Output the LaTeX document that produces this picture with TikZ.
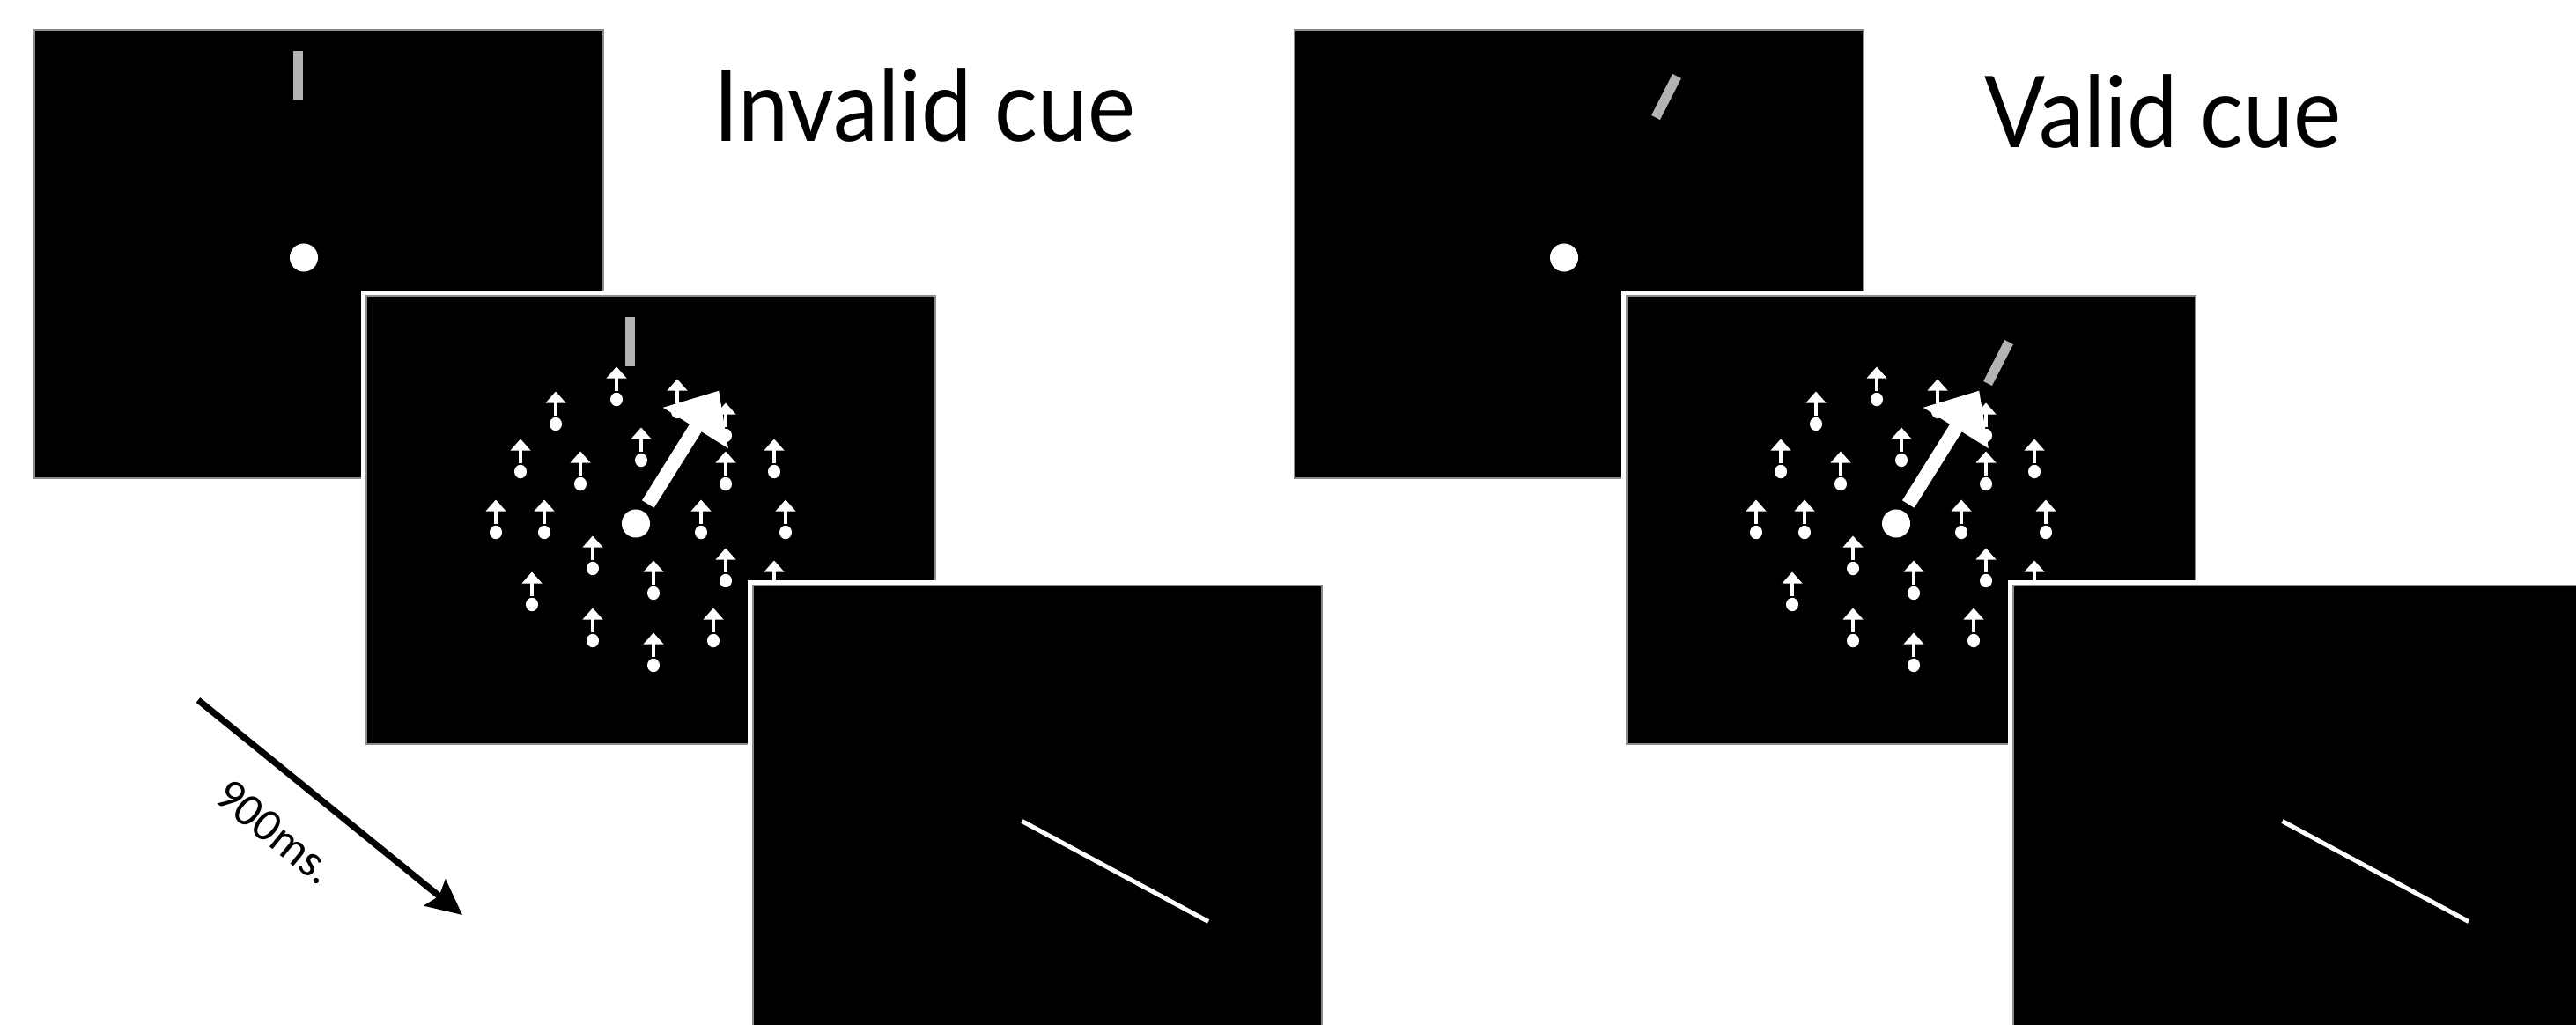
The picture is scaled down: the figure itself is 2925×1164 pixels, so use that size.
\documentclass[tikz,border=0pt]{standalone}
\usepackage{fontspec}
\setmainfont{Lato}
\newfontfamily\titlefont[FakeStretch=0.91]{Lato}
\newfontfamily\delayfont{Carlito}
\usetikzlibrary{arrows.meta, positioning, calc}
\definecolor{cuegray}{HTML}{B3B3B3}
\definecolor{rimgray}{HTML}{8C8C8C}

\tikzset{
  screen/.style={fill=black, draw=rimgray, line width=0.015cm, inner sep=0pt,
    minimum width=6.46cm, minimum height=5.09cm,
    preaction={draw=white, line width=0.12cm}},
  cuebar/.style={draw=cuegray, line width=0.11cm},
  fixdot/.style={fill=white},
  bigcue/.style={white, line width=0.16cm,
    -{Triangle[length=0.5cm, width=0.84cm]}},
  probe/.style={white, line width=0.05cm},
  title/.style={font=\titlefont\fontsize{32}{38}\selectfont, anchor=base west,
    inner sep=0pt},
  timearrow/.style={line width=0.073cm,
    -{Stealth[length=0.4cm, width=0.38cm, inset=0.06cm]}},
}

% dots with upward arrows, offsets from the fixation point
\newcommand{\motionfield}{%
  \foreach \dx/\dy in {-22/-141, -91/-113, 6/-72, -131/-59, -63/-45,
      102/-45, 157/-59, -159/10, -104/10, 74/10, 170/10, -49/51, 102/65,
      20/79, -118/92, -49/133, 88/133, 20/161, 157/79, 47/-127, 102/-100} {
    \fill[white] (\dx,\dy) ellipse [x radius=7, y radius=7.7];
    \fill[white] (\dx-1.8,\dy-10) rectangle (\dx+1.8,\dy-25);
    \fill[white] (\dx-11.5,\dy-24) -- (\dx+11.5,\dy-24) -- (\dx,\dy-37) -- cycle;
  }%
}

\begin{document}
\begin{tikzpicture}[x=0.01cm, y=-0.01cm]
  \useasboundingbox (0,0) rectangle (2925,1164);
  \clip (0,0) rectangle (2925,1164);

  % invalid cue
  \node[screen] (cue1) at (362,288.5) {};
  \coordinate (fix1) at ($(cue1.center)+(-17,4)$);
  \draw[cuebar] ($(fix1)+(-7,-179)$) -- ($(fix1)+(-7,-234)$);
  \fill[fixdot] (fix1) circle (0.16cm);

  \node[screen] (search1) at (739,590.5) {};
  \coordinate (fix2) at ($(search1.center)+(-17,4)$);
  \begin{scope}[shift={(fix2)}]
    \draw[cuebar] (-7,-179) -- (-7,-234);
    \motionfield
    \draw[bigcue] (-58:26) -- (-58:178);
    \fill[fixdot] (0,0) circle (0.16cm);
  \end{scope}

  \node[screen] (probe1) at (1178,919.5) {};
  \draw[probe] ($(probe1.center)+(-17.5,13)$) -- ($(probe1.center)+(194,127)$);

  \node[title] (invalid) at (810,161) {Invalid cue};

  % valid cue
  \node[screen] (cue2) at (1793,288.5) {};
  \coordinate (fix4) at ($(cue2.center)+(-17,4)$);
  \draw[cuebar] ($(fix4)+(104,-159)$) -- ($(fix4)+(128,-206)$);
  \fill[fixdot] (fix4) circle (0.16cm);

  \node[screen] (search2) at (2170,590.5) {};
  \coordinate (fix5) at ($(search2.center)+(-17,4)$);
  \begin{scope}[shift={(fix5)}]
    \draw[cuebar] (104,-159) -- (128,-206);
    \motionfield
    \draw[bigcue] (-58:26) -- (-58:178);
    \fill[fixdot] (0,0) circle (0.16cm);
  \end{scope}

  \node[screen] (probe2) at (2609,919.5) {};
  \draw[probe] ($(probe2.center)+(-17.5,13)$) -- ($(probe2.center)+(194,127)$);

  \node[title] (valid) at (2253,168) {Valid cue};

  % time between frames
  \coordinate (tstart) at (225,795);
  \coordinate (tend) at (525,1039);
  \draw[timearrow] (tstart) -- node[pos=0.42, sloped, below=0.4cm,
    inner sep=0pt, font=\delayfont\fontsize{15}{18}\selectfont] (delay)
    {900ms.} (tend);
\end{tikzpicture}
\end{document}
